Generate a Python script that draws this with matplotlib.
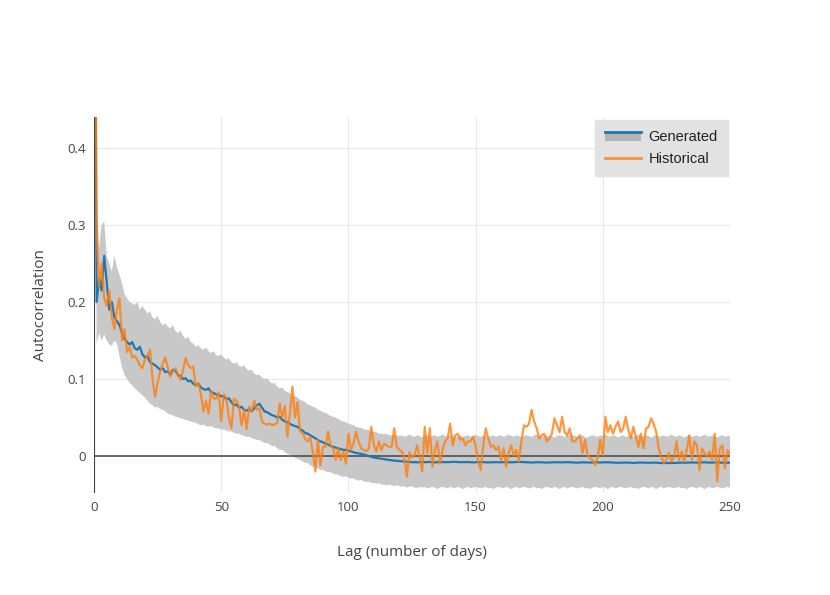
import numpy as np
import matplotlib
matplotlib.use("Agg")
import matplotlib.pyplot as plt
from matplotlib.lines import Line2D
from matplotlib.patches import Rectangle
from matplotlib.legend_handler import HandlerBase

# --- data (lags 0..250) ---
lags = np.arange(0, 251)

historical = [
    1.0, 0.293, 0.22, 0.25, 0.205, 0.195, 0.215, 0.18, 0.165, 0.19,
    0.205, 0.15, 0.165, 0.135, 0.142, 0.128, 0.13, 0.125, 0.118, 0.114,
    0.125, 0.13, 0.138, 0.1, 0.077, 0.095, 0.11, 0.12, 0.128, 0.115,
    0.103, 0.11, 0.114, 0.105, 0.099, 0.112, 0.127, 0.118, 0.114, 0.116,
    0.09, 0.095, 0.08, 0.058, 0.072, 0.055, 0.085, 0.075, 0.074, 0.083,
    0.045, 0.08, 0.076, 0.05, 0.036, 0.074, 0.072, 0.065, 0.04, 0.06,
    0.035, 0.064, 0.058, 0.072, 0.06, 0.062, 0.045, 0.042, 0.041, 0.042,
    0.04, 0.041, 0.043, 0.068, 0.05, 0.065, 0.025, 0.055, 0.09, 0.05,
    0.07, 0.032, 0.03, 0.022, 0.019, 0.025, 0.005, -0.02, 0.021, -0.012,
    0.012, 0.012, 0.032, 0.014, 0.01, -0.005, 0.01, -0.005, 0.006, -0.01,
    0.029, 0.008, 0.016, 0.032, 0.019, 0.01, 0.008, 0.006, 0.01, 0.038,
    0.014, 0.006, 0.019, 0.008, 0.016, 0.014, 0.012, 0.012, 0.036, 0.012,
    0.008, 0.006, -0.003, -0.027, 0.005, -0.002, 0.001, 0.014, -0.001, -0.02,
    0.038, 0.004, 0.036, -0.014, 0.008, 0.019, -0.01, 0.008, 0.019, 0.023,
    0.042, 0.014, 0.027, 0.029, 0.021, 0.023, 0.014, 0.019, 0.019, 0.025,
    0.014, -0.007, -0.018, 0.014, 0.036, 0.023, 0.012, 0.014, 0.008, 0.012,
    -0.005, 0.01, -0.014, 0.004, 0.014, 0.001, 0.008, -0.007, 0.019, 0.04,
    0.038, 0.042, 0.06, 0.045, 0.036, 0.023, 0.027, 0.029, 0.019, 0.023,
    0.029, 0.049, 0.04, 0.031, 0.051, 0.031, 0.027, 0.036, 0.019, 0.019,
    0.023, 0.027, 0.004, 0.021, 0.001, -0.003, -0.005, -0.012, -0.001, 0.021,
    0.001, 0.051, 0.031, 0.04, 0.029, 0.038, 0.045, 0.031, 0.036, 0.051,
    0.034, 0.023, 0.038, 0.025, 0.012, 0.029, 0.01, 0.036, 0.038, 0.049,
    0.042, 0.031, 0.01, -0.001, -0.009, -0.005, 0.004, -0.007, -0.001, 0.019,
    -0.005, 0.006, -0.007, 0.008, 0.027, -0.005, 0.019, 0.014, -0.018, 0.01,
    0.004, -0.001, 0.006, -0.005, 0.029, -0.033, 0.01, 0.014, -0.016, 0.008,
    0.001,
]

generated = [
    1.0, 0.2, 0.23, 0.215, 0.26, 0.225, 0.19, 0.2, 0.18, 0.175,
    0.17, 0.16, 0.152, 0.148, 0.145, 0.148, 0.14, 0.138, 0.142, 0.132,
    0.128, 0.13, 0.122, 0.12, 0.118, 0.115, 0.112, 0.114, 0.109, 0.11,
    0.106, 0.112, 0.111, 0.105, 0.104, 0.1, 0.101, 0.097, 0.098, 0.094,
    0.092, 0.094, 0.089, 0.087, 0.086, 0.088, 0.083, 0.082, 0.08, 0.079,
    0.078, 0.077, 0.074, 0.075, 0.07, 0.066, 0.067, 0.063, 0.064, 0.06,
    0.059, 0.061, 0.058, 0.062, 0.066, 0.068, 0.063, 0.058, 0.057, 0.055,
    0.053, 0.052, 0.05, 0.051, 0.047, 0.045, 0.044, 0.042, 0.04, 0.039,
    0.038, 0.035, 0.033, 0.03, 0.029, 0.027, 0.025, 0.023, 0.021, 0.019,
    0.018, 0.016, 0.015, 0.013, 0.012, 0.011, 0.01, 0.009, 0.008, 0.008,
    0.007, 0.006, 0.005, 0.004, 0.0035, 0.003, 0.002, 0.001, 0.0, -0.001,
    -0.002, -0.0025, -0.003, -0.0035, -0.004, -0.0045, -0.005, -0.0055, -0.006, -0.006,
    -0.0065, -0.0068, -0.0072, -0.0075, -0.0078, -0.008, -0.0079, -0.0081, -0.008, -0.0078,
    -0.008, -0.0079, -0.0077, -0.008, -0.0082, -0.008, -0.0078, -0.0079, -0.0081, -0.008,
    -0.0077, -0.0075, -0.0076, -0.0078, -0.008, -0.0079, -0.0077, -0.0078, -0.008, -0.0082,
    -0.008, -0.0078, -0.0077, -0.0079, -0.0081, -0.0083, -0.0082, -0.008, -0.0079, -0.0081,
    -0.008, -0.0078, -0.0079, -0.0081, -0.0082, -0.008, -0.0078, -0.0076, -0.0077, -0.0079,
    -0.008, -0.0082, -0.0084, -0.0083, -0.0081, -0.008, -0.0082, -0.0084, -0.0085, -0.0083,
    -0.0082, -0.008, -0.0081, -0.0083, -0.0082, -0.008, -0.0079, -0.0081, -0.0083, -0.0085,
    -0.0086, -0.0084, -0.0082, -0.0083, -0.0085, -0.0084, -0.0082, -0.0081, -0.0083, -0.0084,
    -0.0082, -0.008, -0.0081, -0.0083, -0.0085, -0.0086, -0.0088, -0.0087, -0.0085, -0.0084,
    -0.0086, -0.0088, -0.0089, -0.0087, -0.0086, -0.0084, -0.0085, -0.0087, -0.0088, -0.0086,
    -0.0085, -0.0087, -0.0089, -0.0091, -0.0092, -0.009, -0.0089, -0.0091, -0.009, -0.0088,
    -0.0086, -0.0085, -0.0087, -0.0086, -0.0084, -0.0083, -0.0085, -0.0086, -0.0084, -0.0082,
    -0.0081, -0.0083, -0.0085, -0.0084, -0.0082, -0.0083, -0.0085, -0.0087, -0.0088, -0.0086,
    -0.0085,
]

band_upper = [
    1.0, 0.33, 0.27, 0.3, 0.305, 0.26, 0.25, 0.24, 0.26, 0.245,
    0.235, 0.225, 0.21, 0.205, 0.2, 0.198, 0.196, 0.2, 0.19, 0.195,
    0.19, 0.185, 0.188, 0.18, 0.178, 0.182, 0.174, 0.17, 0.172, 0.168,
    0.166, 0.17, 0.162, 0.16, 0.163, 0.156, 0.152, 0.155, 0.148, 0.146,
    0.142, 0.144, 0.14, 0.138, 0.141, 0.136, 0.134, 0.136, 0.131, 0.13,
    0.132, 0.128, 0.125, 0.127, 0.122, 0.12, 0.122, 0.117, 0.116, 0.118,
    0.113, 0.111, 0.112, 0.107, 0.105, 0.106, 0.102, 0.1, 0.101, 0.097,
    0.094, 0.095, 0.09, 0.088, 0.089, 0.085, 0.083, 0.082, 0.079, 0.078,
    0.076, 0.073, 0.072, 0.07, 0.067, 0.066, 0.064, 0.063, 0.06, 0.059,
    0.057, 0.056, 0.054, 0.052, 0.051, 0.05, 0.048, 0.046, 0.045, 0.044,
    0.042, 0.041, 0.04, 0.038, 0.037, 0.037, 0.035, 0.034, 0.034, 0.032,
    0.031, 0.031, 0.029, 0.029, 0.028, 0.029, 0.027, 0.027, 0.026, 0.027,
    0.026, 0.027, 0.025, 0.026, 0.028, 0.026, 0.025, 0.027, 0.026, 0.024,
    0.026, 0.027, 0.025, 0.026, 0.027, 0.025, 0.026, 0.028, 0.026, 0.025,
    0.027, 0.026, 0.024, 0.026, 0.027, 0.025, 0.026, 0.027, 0.025, 0.026,
    0.028, 0.026, 0.025, 0.027, 0.026, 0.024, 0.026, 0.027, 0.025, 0.026,
    0.027, 0.025, 0.026, 0.028, 0.026, 0.025, 0.027, 0.026, 0.024, 0.026,
    0.027, 0.026, 0.025, 0.027, 0.028, 0.026, 0.025, 0.026, 0.027, 0.025,
    0.026, 0.024, 0.026, 0.027, 0.026, 0.025, 0.027, 0.026, 0.028, 0.026,
    0.025, 0.026, 0.027, 0.025, 0.024, 0.026, 0.027, 0.026, 0.025, 0.027,
    0.026, 0.028, 0.026, 0.025, 0.027, 0.026, 0.024, 0.026, 0.027, 0.025,
    0.026, 0.027, 0.025, 0.026, 0.028, 0.026, 0.025, 0.027, 0.026, 0.024,
    0.026, 0.027, 0.025, 0.026, 0.027, 0.025, 0.026, 0.028, 0.026, 0.025,
    0.027, 0.026, 0.024, 0.026, 0.027, 0.025, 0.026, 0.027, 0.025, 0.026,
    0.028, 0.026, 0.025, 0.027, 0.026, 0.024, 0.026, 0.027, 0.025, 0.026,
    0.026,
]

band_lower = [
    1.0, 0.145, 0.16, 0.15, 0.158, 0.15, 0.145, 0.143, 0.15, 0.146,
    0.13, 0.115, 0.105, 0.1, 0.095, 0.092, 0.088, 0.085, 0.082, 0.079,
    0.076, 0.072, 0.068, 0.066, 0.063, 0.064, 0.061, 0.06, 0.058, 0.055,
    0.054, 0.053, 0.051, 0.05, 0.049, 0.048, 0.047, 0.046, 0.045, 0.044,
    0.043, 0.041, 0.04, 0.041, 0.039, 0.038, 0.039, 0.037, 0.036, 0.036,
    0.034, 0.035, 0.033, 0.032, 0.032, 0.03, 0.029, 0.029, 0.027, 0.026,
    0.025, 0.025, 0.023, 0.022, 0.021, 0.021, 0.019, 0.017, 0.017, 0.015,
    0.013, 0.013, 0.01, 0.008, 0.008, 0.005, 0.003, 0.002, -0.001, -0.002,
    -0.004, -0.005, -0.007, -0.009, -0.009, -0.012, -0.014, -0.014, -0.016, -0.018,
    -0.018, -0.02, -0.021, -0.021, -0.023, -0.024, -0.024, -0.026, -0.027, -0.026,
    -0.028, -0.029, -0.029, -0.031, -0.032, -0.031, -0.033, -0.034, -0.033, -0.035,
    -0.035, -0.036, -0.035, -0.037, -0.037, -0.038, -0.037, -0.038, -0.039, -0.038,
    -0.039, -0.04, -0.039, -0.041, -0.04, -0.039, -0.041, -0.042, -0.04, -0.041,
    -0.04, -0.042, -0.041, -0.04, -0.041, -0.043, -0.041, -0.04, -0.041, -0.042,
    -0.04, -0.041, -0.042, -0.04, -0.041, -0.043, -0.041, -0.04, -0.042, -0.041,
    -0.04, -0.041, -0.042, -0.041, -0.04, -0.042, -0.041, -0.043, -0.041, -0.04,
    -0.041, -0.042, -0.04, -0.041, -0.043, -0.041, -0.04, -0.042, -0.041, -0.04,
    -0.041, -0.042, -0.041, -0.04, -0.042, -0.041, -0.043, -0.041, -0.04, -0.041,
    -0.042, -0.04, -0.041, -0.043, -0.041, -0.04, -0.042, -0.041, -0.04, -0.041,
    -0.042, -0.041, -0.04, -0.042, -0.041, -0.043, -0.041, -0.04, -0.041, -0.042,
    -0.04, -0.041, -0.043, -0.041, -0.04, -0.042, -0.041, -0.04, -0.041, -0.042,
    -0.041, -0.04, -0.042, -0.041, -0.043, -0.041, -0.04, -0.041, -0.042, -0.04,
    -0.041, -0.043, -0.041, -0.04, -0.042, -0.041, -0.04, -0.041, -0.042, -0.041,
    -0.04, -0.042, -0.041, -0.043, -0.041, -0.04, -0.041, -0.042, -0.04, -0.041,
    -0.043, -0.041, -0.04, -0.042, -0.041, -0.04, -0.041, -0.042, -0.041, -0.04,
    -0.041,
]

x_ticks = [0, 50, 100, 150, 200, 250]
y_ticks = [0, 0.1, 0.2, 0.3, 0.4]
y_tick_labels = ["0", "0.1", "0.2", "0.3", "0.4"]

blue = "#1f77b4"
orange = "#ff7f0e"
band_grey = "#c8c8c8"
legend_grey = "#b4b4b4"
text_col = "#444444"

plt.rcParams["font.family"] = ["Open Sans", "DejaVu Sans"]


class BandLineHandler(HandlerBase):
    # blue line sitting on top of a grey strip, like the plotly legend
    def create_artists(self, legend, orig_handle, xdescent, ydescent,
                       width, height, fontsize, trans):
        top = height / 2 + 3
        rect = Rectangle((-xdescent, top - 6.5), width, 6.5,
                         facecolor=legend_grey, edgecolor="none", transform=trans)
        line = Line2D([-xdescent, -xdescent + width], [top, top],
                      color=blue, linewidth=2, transform=trans)
        return [rect, line]


fig = plt.figure(figsize=(8.3, 5.95), dpi=100)
ax = fig.add_axes([0.1133, 0.1714, 0.7662, 0.632])

ax.fill_between(lags, band_lower, band_upper, color=band_grey, linewidth=0, zorder=1)
ax.plot(lags, generated, color=blue, linewidth=1.6, zorder=3)
ax.plot(lags, historical, color=orange, alpha=0.8, linewidth=1.6, zorder=4)

# zero lines, plotly style
ax.axhline(0, color=text_col, linewidth=1.1, zorder=2)
ax.axvline(0, color=text_col, linewidth=1.5, zorder=5)

ax.set_xlim(0, 250)
ax.set_ylim(-0.048, 0.4403)
ax.set_xticks(x_ticks)
ax.set_yticks(y_ticks)
ax.set_yticklabels(y_tick_labels)
ax.grid(True, color="#ebebeb", linewidth=1)
ax.set_axisbelow(True)
for s in ax.spines.values():
    s.set_visible(False)
ax.tick_params(length=0, labelsize=9.5, colors=text_col, pad=6)

ax.set_xlabel("Lag (number of days)", fontsize=11, color=text_col, labelpad=22)
ax.set_ylabel("Autocorrelation", fontsize=11, color=text_col, labelpad=14)

gen_handle = object()
hist_handle = Line2D([], [], color=orange, alpha=0.8, linewidth=2)
leg = ax.legend([gen_handle, hist_handle], ["Generated", "Historical"],
                handler_map={gen_handle: BandLineHandler()},
                loc="upper right", bbox_to_anchor=(0.997, 0.992),
                borderaxespad=0,
                prop={"family": "Liberation Sans", "size": 10.5},
                frameon=True, fancybox=False,
                handlelength=2.5, handletextpad=0.5,
                borderpad=0.7, labelspacing=0.55)
leg.get_frame().set_facecolor("#e2e2e2")
leg.get_frame().set_edgecolor("#e2e2e2")
leg.get_frame().set_alpha(1)
for t in leg.get_texts():
    t.set_color("#222222")

fig.savefig("out.png", dpi=100)
